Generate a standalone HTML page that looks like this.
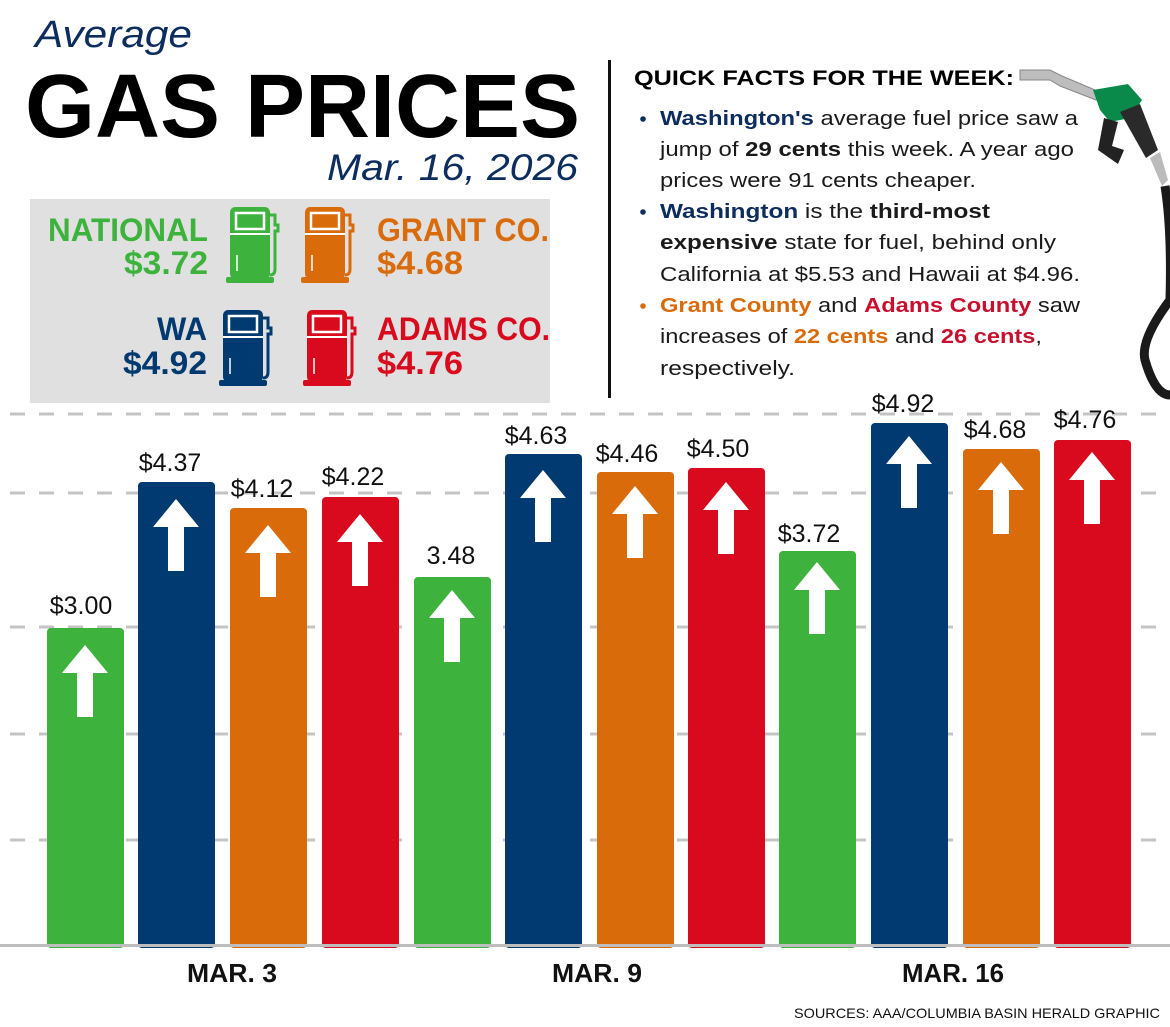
<!DOCTYPE html>
<html><head><meta charset="utf-8"><style>
html,body{margin:0;padding:0;background:#fff;}
svg{display:block;font-family:"Liberation Sans",sans-serif;}
</style></head><body>
<svg width="1170" height="1027" viewBox="0 0 1170 1027" xmlns="http://www.w3.org/2000/svg">
<defs>
<g id="arrow"><polygon points="0,0 23,28 8,28 8,72 -8,72 -8,28 -23,28" fill="#fff"/></g>
<g id="pump">
<rect x="0" y="0" width="40" height="72" rx="5"/>
<rect x="-4" y="70" width="48" height="6" rx="2"/>
<rect x="6" y="6" width="28" height="16" fill="none" stroke="#fff" stroke-width="2.5"/>
<line x1="0" y1="27" x2="40" y2="27" stroke="#fff" stroke-width="2"/>
<line x1="7" y1="48" x2="7" y2="64" stroke="#fff" stroke-width="1.5"/>
<path d="M40,8 h5 v10 h3 v6 h-3 v38 q0,6 -5,6" fill="none" stroke="currentColor" stroke-width="3"/>
</g>
</defs>

<!-- Title -->
<text x="35" y="47" font-size="38" font-style="italic" fill="#0d2d5e" font-weight="300" textLength="157" lengthAdjust="spacingAndGlyphs">Average</text>
<text x="25" y="137" font-size="90" font-weight="bold" fill="#000" textLength="555" lengthAdjust="spacingAndGlyphs">GAS PRICES</text>
<text x="327" y="180" font-size="37" font-style="italic" fill="#0d2d5e" textLength="251" lengthAdjust="spacingAndGlyphs">Mar. 16, 2026</text>

<!-- legend box -->
<rect x="30" y="199" width="520" height="204" fill="#e0e0e0"/>
<g font-weight="bold" font-size="32">
<text x="208" y="241" text-anchor="end" fill="#3db33d" textLength="160" lengthAdjust="spacingAndGlyphs">NATIONAL</text>
<text x="208" y="274" text-anchor="end" fill="#3db33d" textLength="84" lengthAdjust="spacingAndGlyphs">$3.72</text>
<text x="377" y="241" fill="#d96b0a" textLength="172" lengthAdjust="spacingAndGlyphs">GRANT CO.</text>
<text x="377" y="274" fill="#d96b0a" textLength="86" lengthAdjust="spacingAndGlyphs">$4.68</text>
<text x="207" y="340" text-anchor="end" fill="#003a70" textLength="50" lengthAdjust="spacingAndGlyphs">WA</text>
<text x="207" y="374" text-anchor="end" fill="#003a70" textLength="84" lengthAdjust="spacingAndGlyphs">$4.92</text>
<text x="377" y="340" fill="#d90a1e" textLength="173" lengthAdjust="spacingAndGlyphs">ADAMS CO.</text>
<text x="377" y="374" fill="#d90a1e" textLength="86" lengthAdjust="spacingAndGlyphs">$4.76</text>
</g>
<g transform="translate(230,207)" fill="#3db33d" color="#3db33d"><use href="#pump"/></g>
<g transform="translate(305,207)" fill="#d96b0a" color="#d96b0a"><use href="#pump"/></g>
<g transform="translate(223,310)" fill="#003a70" color="#003a70"><use href="#pump"/></g>
<g transform="translate(307,310)" fill="#d90a1e" color="#d90a1e"><use href="#pump"/></g>

<!-- divider -->
<rect x="608" y="60" width="3" height="338" fill="#111"/>

<!-- quick facts -->
<text x="634" y="85" font-size="21" font-weight="bold" fill="#000" textLength="380" lengthAdjust="spacingAndGlyphs">QUICK FACTS FOR THE WEEK:</text>
<g font-size="20" fill="#1a1a1a">
<circle cx="643" cy="119" r="2.8" fill="#0d2d5e"/>
<text x="660" y="125" textLength="418" lengthAdjust="spacingAndGlyphs"><tspan font-weight="bold" fill="#0d2d5e">Washington's</tspan> average fuel price saw a</text>
<text x="660" y="156" textLength="414" lengthAdjust="spacingAndGlyphs">jump of <tspan font-weight="bold">29 cents</tspan> this week. A year ago</text>
<text x="660" y="187" textLength="316" lengthAdjust="spacingAndGlyphs">prices were 91 cents cheaper.</text>
<circle cx="643" cy="212" r="2.8" fill="#0d2d5e"/>
<text x="660" y="218" textLength="330" lengthAdjust="spacingAndGlyphs"><tspan font-weight="bold" fill="#0d2d5e">Washington</tspan> is the <tspan font-weight="bold">third-most</tspan></text>
<text x="660" y="249" textLength="396" lengthAdjust="spacingAndGlyphs"><tspan font-weight="bold">expensive</tspan> state for fuel, behind only</text>
<text x="660" y="281" textLength="420" lengthAdjust="spacingAndGlyphs">California at $5.53 and Hawaii at $4.96.</text>
<circle cx="643" cy="306" r="2.8" fill="#d96b0a"/>
<text x="660" y="312" textLength="420" lengthAdjust="spacingAndGlyphs"><tspan font-weight="bold" fill="#d96b0a">Grant County</tspan> and <tspan font-weight="bold" fill="#c8102e">Adams County</tspan> saw</text>
<text x="660" y="343" textLength="382" lengthAdjust="spacingAndGlyphs">increases of <tspan font-weight="bold" fill="#d96b0a">22 cents</tspan> and <tspan font-weight="bold" fill="#c8102e">26 cents</tspan>,</text>
<text x="660" y="375" textLength="135" lengthAdjust="spacingAndGlyphs">respectively.</text>
</g>

<!-- nozzle -->
<polygon points="1020,70 1050,70 1062,76 1100,92 1096,100 1060,86 1050,80 1020,80" fill="#bdbdbd" stroke="#888"/>
<path d="M1093,90 L1128,84 L1142,100 L1130,118 L1110,122 L1100,110 Z" fill="#0a8a4a"/>
<path d="M1104,118 L1098,150 L1118,164 L1124,150 L1112,146 L1118,122 Z" fill="#222"/>
<path d="M1120,112 L1140,104 L1158,150 L1146,158 Z" fill="#2a2a2a"/>
<path d="M1150,158 L1160,152 L1168,180 L1162,186 Z" fill="#bbb"/>
<path d="M1165,186 Q1172,230 1170,300 Q1140,340 1145,360 Q1155,395 1170,395" fill="none" stroke="#1a1a1a" stroke-width="9"/>

<!-- gridlines -->
<g stroke="#c4c4c4" stroke-width="3" stroke-dasharray="15,14">
<line x1="10" y1="414" x2="1170" y2="414"/>
<line x1="10" y1="493" x2="1170" y2="493"/>
<line x1="10" y1="627" x2="1170" y2="627"/>
<line x1="10" y1="734" x2="1170" y2="734"/>
<line x1="10" y1="840" x2="1170" y2="840"/>
</g>

<!-- bars -->
<g>
<rect x="47" y="628" width="77" height="320" rx="4" fill="#3db33d"/>
<rect x="138" y="482" width="77" height="466" rx="4" fill="#003a70"/>
<rect x="230" y="508" width="77" height="440" rx="4" fill="#d96b0a"/>
<rect x="322" y="497" width="77" height="451" rx="4" fill="#d90a1e"/>
<rect x="414" y="577" width="77" height="371" rx="4" fill="#3db33d"/>
<rect x="505" y="454" width="77" height="494" rx="4" fill="#003a70"/>
<rect x="597" y="472" width="77" height="476" rx="4" fill="#d96b0a"/>
<rect x="688" y="468" width="77" height="480" rx="4" fill="#d90a1e"/>
<rect x="779" y="551" width="77" height="397" rx="4" fill="#3db33d"/>
<rect x="871" y="423" width="77" height="525" rx="4" fill="#003a70"/>
<rect x="963" y="449" width="77" height="499" rx="4" fill="#d96b0a"/>
<rect x="1054" y="440" width="77" height="508" rx="4" fill="#d90a1e"/>
</g>
<use href="#arrow" transform="translate(85,645)"/>
<use href="#arrow" transform="translate(176,499)"/>
<use href="#arrow" transform="translate(268,525)"/>
<use href="#arrow" transform="translate(360,514)"/>
<use href="#arrow" transform="translate(452,590)"/>
<use href="#arrow" transform="translate(543,470)"/>
<use href="#arrow" transform="translate(635,486)"/>
<use href="#arrow" transform="translate(726,482)"/>
<use href="#arrow" transform="translate(817,562)"/>
<use href="#arrow" transform="translate(909,436)"/>
<use href="#arrow" transform="translate(1001,462)"/>
<use href="#arrow" transform="translate(1092,452)"/>

<!-- value labels -->
<g font-size="25" fill="#111" text-anchor="middle">
<text x="81" y="614">$3.00</text>
<text x="170" y="471">$4.37</text>
<text x="262" y="497">$4.12</text>
<text x="353" y="485">$4.22</text>
<text x="451" y="564">3.48</text>
<text x="536" y="444">$4.63</text>
<text x="627" y="462">$4.46</text>
<text x="718" y="457">$4.50</text>
<text x="809" y="542">$3.72</text>
<text x="903" y="412">$4.92</text>
<text x="995" y="438">$4.68</text>
<text x="1085" y="428">$4.76</text>
</g>

<!-- baseline -->
<rect x="0" y="944" width="1170" height="3" fill="#bdbdbd"/>

<g font-weight="bold" font-size="26" fill="#111" text-anchor="middle">
<text x="232" y="982" textLength="90" lengthAdjust="spacingAndGlyphs">MAR. 3</text>
<text x="597" y="982" textLength="90" lengthAdjust="spacingAndGlyphs">MAR. 9</text>
<text x="953" y="982" textLength="102" lengthAdjust="spacingAndGlyphs">MAR. 16</text>
</g>
<text x="1160" y="1018" font-size="14" text-anchor="end" fill="#111" textLength="366" lengthAdjust="spacingAndGlyphs">SOURCES: AAA/COLUMBIA BASIN HERALD GRAPHIC</text>
</svg>
</body></html>
